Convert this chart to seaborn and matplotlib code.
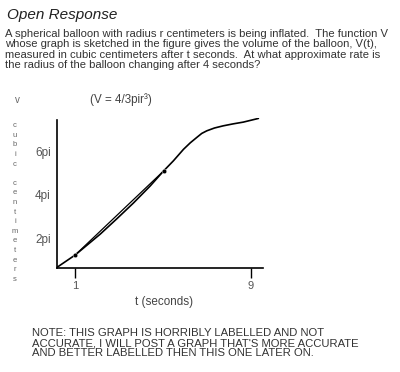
import numpy as np
import pandas as pd
import matplotlib
matplotlib.use("Agg")
import matplotlib.pyplot as plt
import seaborn as sns

# volume curve (y in units of pi)
t_vals = [0.18, 1.01, 2.15, 2.91, 3.66, 4.42, 5.03, 5.48, 5.94, 6.25, 6.55, 6.77, 7.0, 7.35, 7.75, 8.2, 8.66, 9.35]
v_vals = [0.65, 1.22, 2.18, 2.89, 3.61, 4.39, 5.08, 5.55, 6.08, 6.38, 6.63, 6.81, 6.93, 7.06, 7.16, 7.25, 7.33, 7.5]
# secant points
sec_t = [1.01, 5.03]
sec_v = [1.22, 5.08]
x_ticks = [1, 9]
y_ticks = [2.0, 4.0, 6.0]
y_labels = ["2pi", "4pi", "6pi"]

sns.set_style("white")
plt.rcParams['font.family'] = ['Liberation Sans', 'DejaVu Sans']

curve = pd.DataFrame({"t": t_vals, "V": v_vals})
secant = pd.DataFrame({"t": sec_t, "V": sec_v})

fig = plt.figure(figsize=(4, 3.72), dpi=100)
ax = fig.add_axes([57/400, 1-268/372, (263-57)/400, (268-118)/372])

sns.lineplot(data=curve, x="t", y="V", ax=ax, color="black", linewidth=1.2)
sns.lineplot(data=secant, x="t", y="V", ax=ax, color="black", linewidth=0.9)
sns.scatterplot(data=secant, x="t", y="V", ax=ax, color="black", s=10, zorder=5)

ax.set_xlim(0.18, 9.56)
ax.set_ylim(0.62, 7.52)
for s in ["top", "right"]:
    ax.spines[s].set_visible(False)
ax.spines["left"].set_bounds(0.62, 7.42)
ax.spines["left"].set_linewidth(1.2)
ax.spines["bottom"].set_linewidth(1.2)
ax.spines["left"].set_color("black")
ax.spines["bottom"].set_color("black")

ax.set_xticks(x_ticks)
ax.set_xticklabels([str(x) for x in x_ticks], fontsize=8, color="#555555")
ax.tick_params(axis="x", direction="out", length=7.5, width=1.0, color="black", pad=2, bottom=True)
ax.set_yticks(y_ticks)
ax.set_yticklabels(y_labels, fontsize=8.5, color="#555555")
ax.tick_params(axis="y", length=0, pad=4.5)
ax.set_xlabel("")
ax.set_ylabel("")

# texts
fig.text(7/400, 1-15/372, "Open Response", fontsize=11, style="italic", color="#222222", va="center")
body = ["A spherical balloon with radius r centimeters is being inflated.  The function V",
        "whose graph is sketched in the figure gives the volume of the balloon, V(t),",
        "measured in cubic centimeters after t seconds.  At what approximate rate is",
        "the radius of the balloon changing after 4 seconds?"]
fig.text(5/400, 1-49.5/372, "\n".join(body), fontsize=8.1, color="#333333",
         va="center", linespacing=1.04)

fig.text(17.5/400, 1-100/372, "v", fontsize=7, color="#666666", ha="center", va="center")
fig.text(121/400, 1-100/372, "(V = 4/3pir\u00b3)", fontsize=8.4, color="#444444", ha="center", va="center")

word = "cubic centimeters"
fig.text(15/400, 1-(121+10.2*8)/372, "\n".join(word), fontsize=5.5, color="#666666",
         ha="center", va="center", linespacing=1.52)

fig.text(164/400, 1-302/372, "t (seconds)", fontsize=8.4, color="#444444", ha="center", va="center")

note = ["NOTE: THIS GRAPH IS HORRIBLY LABELLED AND NOT",
        "ACCURATE, I WILL POST A GRAPH THAT'S MORE ACCURATE",
        "AND BETTER LABELLED THEN THIS ONE LATER ON."]
fig.text(32/400, 1-343/372, "\n".join(note), fontsize=8.1, color="#333333",
         va="center", linespacing=1.04)

fig.savefig("out.png", dpi=100)
